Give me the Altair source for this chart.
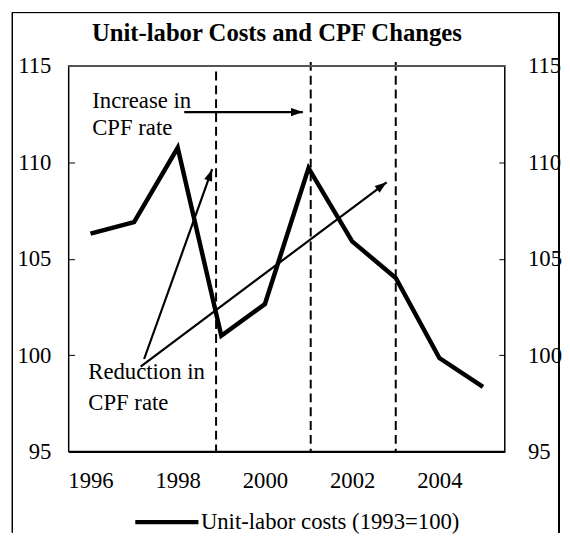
import math
import altair as alt
import pandas as pd

# ---------------- data ----------------
years = [1996, 1997, 1998, 1999, 2000, 2001, 2002, 2003, 2004, 2005]
ulc = [106.3, 106.9, 110.75, 101.0, 102.65, 109.7, 105.9, 104.0, 99.85, 98.35]
series_name = "Unit-labor costs (1993=100)"

cpf_years = [1998.88, 2001.05, 2003.0]
cpf_top = [114.7, 115.2, 115.2]
cpf_bottom = [95, 95, 95]

arrow_x1 = [1998.15, 1997.23, 1997.15]
arrow_y1 = [112.6, 99.8, 99.4]
arrow_x2 = [2000.87, 1998.79, 2002.79]
arrow_y2 = [112.6, 109.64, 108.96]

note_text = ["Increase in", "CPF rate", "Reduction in", "CPF rate"]
note_x = [1996.04, 1996.04, 1995.95, 1995.95]
note_y = [113.18, 111.78, 99.12, 97.51]

x_ticks = [1996, 1998, 2000, 2002, 2004]
y_ticks = [95, 100, 105, 110, 115]
X_DOMAIN = [1995.5, 2005.5]
Y_DOMAIN = [95, 115]

W, H = 442, 391
FONT = "Liberation Serif"
FS = 23

# ---------------- tables ----------------
df_line = pd.DataFrame({"year": years, "ulc": ulc, "series": series_name})
df_cpf = pd.DataFrame({"year": cpf_years, "top": cpf_top, "bottom": cpf_bottom})

px_x = W / (X_DOMAIN[1] - X_DOMAIN[0])
px_y = H / (Y_DOMAIN[1] - Y_DOMAIN[0])
angles = [
    (math.degrees(math.atan2((bx - ax) * px_x, (by - ay) * px_y)) + 360) % 360
    for ax, ay, bx, by in zip(arrow_x1, arrow_y1, arrow_x2, arrow_y2)
]
df_arrow = pd.DataFrame({"x1": arrow_x1, "y1": arrow_y1, "x2": arrow_x2,
                         "y2": arrow_y2, "angle": angles})
df_note = pd.DataFrame({"x": note_x, "y": note_y, "label": note_text})

# ---------------- scales & axes ----------------
xscale = alt.Scale(domain=X_DOMAIN, nice=False, zero=False)
yscale = alt.Scale(domain=Y_DOMAIN, nice=False, zero=False)

x_axis = alt.Axis(values=x_ticks, format="d", title=None, grid=False,
                  tickSize=0, labelFont=FONT, labelFontSize=FS,
                  labelColor="black", labelPadding=18, domainColor="black",
                  domainWidth=2, labelFlush=False)
left_axis = alt.Axis(orient="left", values=y_ticks, title=None, grid=False,
                     domain=False, offset=-6, tickSize=6, tickColor="black",
                     tickWidth=1, labelFont=FONT, labelFontSize=FS,
                     labelColor="black", labelPadding=18)
right_axis = alt.Axis(orient="right", values=y_ticks, title=None, grid=False,
                      domain=False, offset=-6, tickSize=6, tickColor="black",
                      tickWidth=1, labelFont=FONT, labelFontSize=FS,
                      labelColor="black", labelPadding=23)

def X(field):
    return alt.X(field, type="quantitative", scale=xscale, axis=x_axis)

def Y(field):
    return alt.Y(field, type="quantitative", scale=yscale, axis=left_axis)

# ---------------- outer chart-area border ----------------
border_left = alt.Chart(df_line).mark_rule(color="black", strokeWidth=1).encode(
    x=alt.value(-57), y=alt.value(-54), y2=alt.value(473))
border_right = alt.Chart(df_line).mark_rule(color="black", strokeWidth=1).encode(
    x=alt.value(497), y=alt.value(-54), y2=alt.value(473))
border_top = alt.Chart(df_line).mark_rule(color="black", strokeWidth=1).encode(
    x=alt.value(-57), x2=alt.value(497), y=alt.value(-54))
# top edge of the plot frame is a lighter grey line
frame_top = alt.Chart(df_line).mark_rule(color="#555555", strokeWidth=1.5).encode(
    x=alt.value(0), x2=alt.value(W), y=alt.value(0))

# ---------------- content ----------------
cpf = alt.Chart(df_cpf).mark_rule(color="black", strokeWidth=2,
                                  strokeDash=[9, 5]).encode(
    x=X("year"), y=Y("top"), y2="bottom")

line = alt.Chart(df_line).mark_line(strokeWidth=4.5, strokeJoin="miter").encode(
    x=X("year"), y=Y("ulc"),
    color=alt.Color("series:N", scale=alt.Scale(range=["black"]),
                    legend=alt.Legend(title=None, orient="none",
                                      legendX=88, legendY=451,
                                      symbolType="M-4,0L4,0", symbolSize=256,
                                      symbolStrokeWidth=4.5, labelOffset=23,
                                      labelFont=FONT, labelFontSize=FS,
                                      labelColor="black", padding=0,
                                      labelLimit=400)))

arrows = alt.Chart(df_arrow).mark_rule(color="black", strokeWidth=2.2).encode(
    x=X("x1"), y=Y("y1"), x2="x2", y2="y2")

heads = alt.Chart(df_arrow).mark_point(
    shape="M0,0L-0.42,1.2L0.42,1.2Z", size=400, filled=True,
    color="black", opacity=1, strokeWidth=0).encode(
    x=X("x2"), y=Y("y2"), angle=alt.Angle("angle:Q", scale=None))

notes = alt.Chart(df_note).mark_text(align="left", baseline="middle",
                                     font=FONT, fontSize=FS,
                                     color="black").encode(
    x=X("x"), y=Y("y"), text="label:N")

content = alt.layer(border_left, border_right, border_top,
                    cpf, line, arrows, heads, notes, frame_top)

right = alt.Chart(df_line).mark_line(opacity=0).encode(
    x=X("year"),
    y=alt.Y("ulc", type="quantitative", scale=yscale, axis=right_axis))

chart = alt.layer(content, right).resolve_scale(y="independent").properties(
    width=W, height=H, background="white",
    padding={"left": 3.5, "top": 0, "right": 0, "bottom": 0},
    title=alt.Title("Unit-labor Costs and CPF Changes", font=FONT,
                    fontSize=25, fontWeight="bold", color="black",
                    anchor="middle", frame="group", dx=-10,
                    baseline="alphabetic", offset=-54),
).configure_view(stroke="black", strokeWidth=1.5)

chart.save("out.html", embed_options={"renderer": "svg", "actions": False})
